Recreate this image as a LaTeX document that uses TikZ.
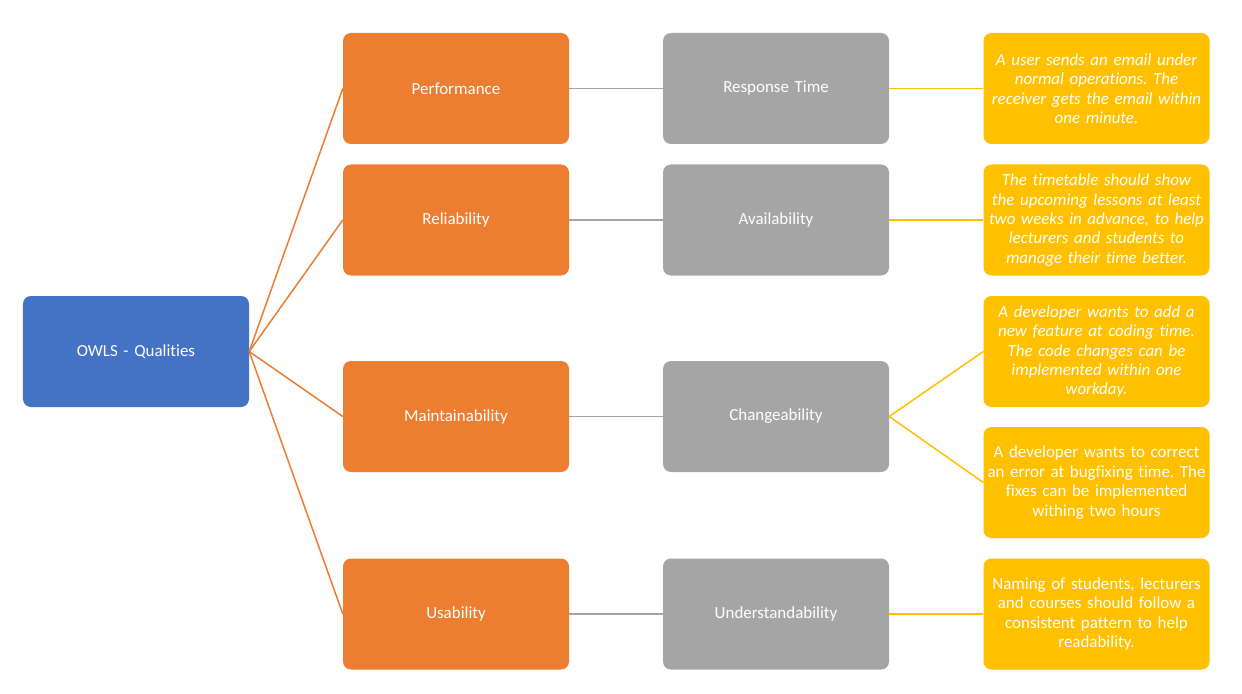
\documentclass[tikz,border=0pt]{standalone}
\usepackage{fontspec}
\setmainfont{Carlito}[Ligatures={NoCommon}]
\frenchspacing
\definecolor{cblue}{HTML}{4472C4}
\definecolor{corange}{HTML}{ED7D31}
\definecolor{cgray}{HTML}{A5A5A5}
\definecolor{cyellow}{HTML}{FFC000}
\begin{document}
\begin{tikzpicture}[x=1bp,y=-1bp,
  box/.style={rounded corners=8bp, minimum width=226bp, minimum height=111bp, inner sep=0pt, text=white, font=\fontsize{17}{19.5}\selectfont, align=center, text width=222bp},
  rootbox/.style={box, fill=cblue},
  qbox/.style={box, fill=corange},
  abox/.style={box, fill=cgray},
  sbox/.style={box, fill=cyellow},
  oline/.style={corange, line width=1.5bp},
  gline/.style={cgray, line width=1.5bp},
  yline/.style={cyellow, line width=1.5bp}]
\fill[white] (0,0) rectangle (1242,694);
\node[rootbox] (root) at (136,351.5) {OWLS - Qualities};
\node[qbox] (q1) at (456,88.5) {Performance};
\node[qbox] (q2) at (456,220) {Reliability};
\node[qbox] (q3) at (456,416.5) {Maintainability};
\node[qbox] (q4) at (456,614) {Usability};
\node[abox] (a1) at (776,88.5) {Response Time};
\node[abox] (a2) at (776,220) {Availability};
\node[abox] (a3) at (776,416.5) {Changeability};
\node[abox] (a4) at (776,614) {Understandability};
\node[sbox] (s1) at (1096.5,88.5) {\itshape A user sends an email under\\normal operations. The\\receiver gets the email within\\one minute.};
\node[sbox] (s2) at (1096.5,220) {\itshape The timetable should show\\the upcoming lessons at least\\two weeks in advance, to help\\lecturers and students to\\manage their time better.};
\node[sbox] (s3) at (1096.5,351.5) {\itshape A developer wants to add a\\new feature at coding time.\\The code changes can be\\implemented within one\\workday.};
\node[sbox] (s4) at (1096.5,482.5) {A developer wants to correct\\an error at bugfixing time. The\\fixes can be implemented\\withing two hours};
\node[sbox] (s5) at (1096.5,614) {Naming of students, lecturers\\and courses should follow a\\consistent pattern to help\\readability.};
\foreach \q in {q1,q2,q3,q4} \draw[oline] (root.east) -- (\q.west);
\foreach \i in {1,2,3,4} \draw[gline] (q\i.east) -- (a\i.west);
\draw[yline] (a1.east) -- (s1.west);
\draw[yline] (a2.east) -- (s2.west);
\draw[yline] (a3.east) -- (s3.west);
\draw[yline] (a3.east) -- (s4.west);
\draw[yline] (a4.east) -- (s5.west);
\end{tikzpicture}
\end{document}
